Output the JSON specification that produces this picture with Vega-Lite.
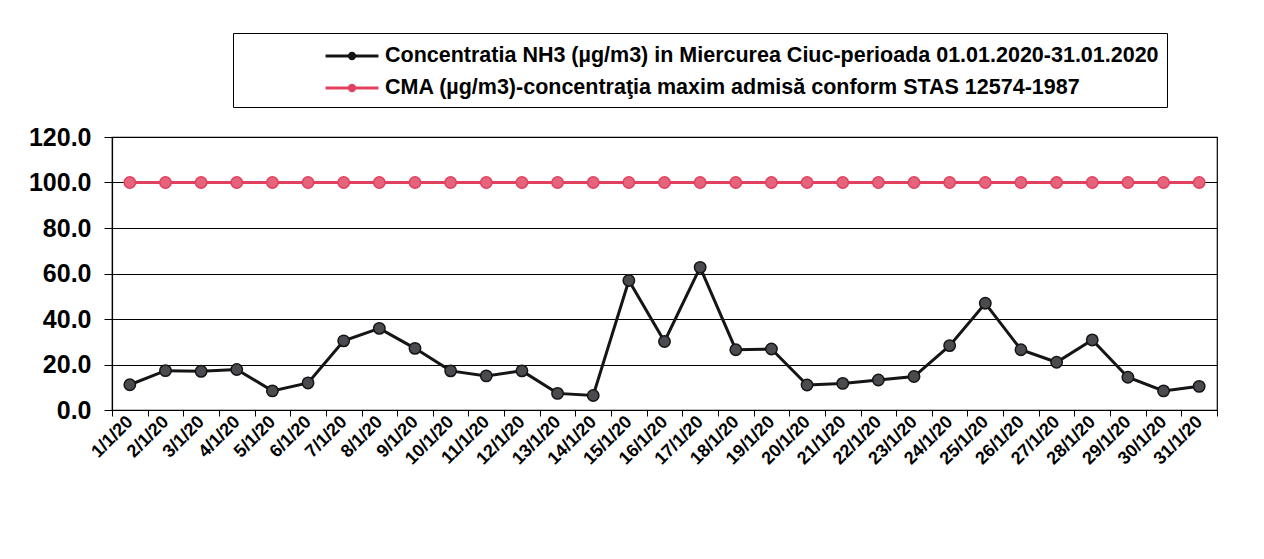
{
  "$schema": "https://vega.github.io/schema/vega-lite/v6.json",
  "width": 1105,
  "height": 273,
  "autosize": "none",
  "padding": {"left": 112, "top": 137, "right": 47, "bottom": 149},
  "background": "white",
  "config": {
    "font": "Liberation Sans",
    "view": {"stroke": "black", "strokeWidth": 1.2},
    "axis": {"labelFont": "Liberation Sans", "labelFontWeight": "bold", "labelColor": "black", "domainColor": "black", "tickColor": "black", "gridColor": "black", "gridOpacity": 1}
  },
  "data": {"values": [
    {"d": "1/1/20", "s": "Concentratia NH3 (µg/m3) in Miercurea Ciuc-perioada 01.01.2020-31.01.2020", "v": 11.1},
    {"d": "2/1/20", "s": "Concentratia NH3 (µg/m3) in Miercurea Ciuc-perioada 01.01.2020-31.01.2020", "v": 17.3},
    {"d": "3/1/20", "s": "Concentratia NH3 (µg/m3) in Miercurea Ciuc-perioada 01.01.2020-31.01.2020", "v": 17.0},
    {"d": "4/1/20", "s": "Concentratia NH3 (µg/m3) in Miercurea Ciuc-perioada 01.01.2020-31.01.2020", "v": 17.8},
    {"d": "5/1/20", "s": "Concentratia NH3 (µg/m3) in Miercurea Ciuc-perioada 01.01.2020-31.01.2020", "v": 8.4},
    {"d": "6/1/20", "s": "Concentratia NH3 (µg/m3) in Miercurea Ciuc-perioada 01.01.2020-31.01.2020", "v": 11.9},
    {"d": "7/1/20", "s": "Concentratia NH3 (µg/m3) in Miercurea Ciuc-perioada 01.01.2020-31.01.2020", "v": 30.4},
    {"d": "8/1/20", "s": "Concentratia NH3 (µg/m3) in Miercurea Ciuc-perioada 01.01.2020-31.01.2020", "v": 35.9},
    {"d": "9/1/20", "s": "Concentratia NH3 (µg/m3) in Miercurea Ciuc-perioada 01.01.2020-31.01.2020", "v": 27.1},
    {"d": "10/1/20", "s": "Concentratia NH3 (µg/m3) in Miercurea Ciuc-perioada 01.01.2020-31.01.2020", "v": 17.2},
    {"d": "11/1/20", "s": "Concentratia NH3 (µg/m3) in Miercurea Ciuc-perioada 01.01.2020-31.01.2020", "v": 15.0},
    {"d": "12/1/20", "s": "Concentratia NH3 (µg/m3) in Miercurea Ciuc-perioada 01.01.2020-31.01.2020", "v": 17.2},
    {"d": "13/1/20", "s": "Concentratia NH3 (µg/m3) in Miercurea Ciuc-perioada 01.01.2020-31.01.2020", "v": 7.3},
    {"d": "14/1/20", "s": "Concentratia NH3 (µg/m3) in Miercurea Ciuc-perioada 01.01.2020-31.01.2020", "v": 6.4},
    {"d": "15/1/20", "s": "Concentratia NH3 (µg/m3) in Miercurea Ciuc-perioada 01.01.2020-31.01.2020", "v": 56.9},
    {"d": "16/1/20", "s": "Concentratia NH3 (µg/m3) in Miercurea Ciuc-perioada 01.01.2020-31.01.2020", "v": 30.1},
    {"d": "17/1/20", "s": "Concentratia NH3 (µg/m3) in Miercurea Ciuc-perioada 01.01.2020-31.01.2020", "v": 62.7},
    {"d": "18/1/20", "s": "Concentratia NH3 (µg/m3) in Miercurea Ciuc-perioada 01.01.2020-31.01.2020", "v": 26.5},
    {"d": "19/1/20", "s": "Concentratia NH3 (µg/m3) in Miercurea Ciuc-perioada 01.01.2020-31.01.2020", "v": 26.8},
    {"d": "20/1/20", "s": "Concentratia NH3 (µg/m3) in Miercurea Ciuc-perioada 01.01.2020-31.01.2020", "v": 11.0},
    {"d": "21/1/20", "s": "Concentratia NH3 (µg/m3) in Miercurea Ciuc-perioada 01.01.2020-31.01.2020", "v": 11.7},
    {"d": "22/1/20", "s": "Concentratia NH3 (µg/m3) in Miercurea Ciuc-perioada 01.01.2020-31.01.2020", "v": 13.2},
    {"d": "23/1/20", "s": "Concentratia NH3 (µg/m3) in Miercurea Ciuc-perioada 01.01.2020-31.01.2020", "v": 14.7},
    {"d": "24/1/20", "s": "Concentratia NH3 (µg/m3) in Miercurea Ciuc-perioada 01.01.2020-31.01.2020", "v": 28.3},
    {"d": "25/1/20", "s": "Concentratia NH3 (µg/m3) in Miercurea Ciuc-perioada 01.01.2020-31.01.2020", "v": 46.9},
    {"d": "26/1/20", "s": "Concentratia NH3 (µg/m3) in Miercurea Ciuc-perioada 01.01.2020-31.01.2020", "v": 26.5},
    {"d": "27/1/20", "s": "Concentratia NH3 (µg/m3) in Miercurea Ciuc-perioada 01.01.2020-31.01.2020", "v": 21.0},
    {"d": "28/1/20", "s": "Concentratia NH3 (µg/m3) in Miercurea Ciuc-perioada 01.01.2020-31.01.2020", "v": 30.8},
    {"d": "29/1/20", "s": "Concentratia NH3 (µg/m3) in Miercurea Ciuc-perioada 01.01.2020-31.01.2020", "v": 14.4},
    {"d": "30/1/20", "s": "Concentratia NH3 (µg/m3) in Miercurea Ciuc-perioada 01.01.2020-31.01.2020", "v": 8.4},
    {"d": "31/1/20", "s": "Concentratia NH3 (µg/m3) in Miercurea Ciuc-perioada 01.01.2020-31.01.2020", "v": 10.4},
    {"d": "1/1/20", "s": "CMA (µg/m3)-concentraţia maxim admisă conform STAS 12574-1987", "v": 100},
    {"d": "2/1/20", "s": "CMA (µg/m3)-concentraţia maxim admisă conform STAS 12574-1987", "v": 100},
    {"d": "3/1/20", "s": "CMA (µg/m3)-concentraţia maxim admisă conform STAS 12574-1987", "v": 100},
    {"d": "4/1/20", "s": "CMA (µg/m3)-concentraţia maxim admisă conform STAS 12574-1987", "v": 100},
    {"d": "5/1/20", "s": "CMA (µg/m3)-concentraţia maxim admisă conform STAS 12574-1987", "v": 100},
    {"d": "6/1/20", "s": "CMA (µg/m3)-concentraţia maxim admisă conform STAS 12574-1987", "v": 100},
    {"d": "7/1/20", "s": "CMA (µg/m3)-concentraţia maxim admisă conform STAS 12574-1987", "v": 100},
    {"d": "8/1/20", "s": "CMA (µg/m3)-concentraţia maxim admisă conform STAS 12574-1987", "v": 100},
    {"d": "9/1/20", "s": "CMA (µg/m3)-concentraţia maxim admisă conform STAS 12574-1987", "v": 100},
    {"d": "10/1/20", "s": "CMA (µg/m3)-concentraţia maxim admisă conform STAS 12574-1987", "v": 100},
    {"d": "11/1/20", "s": "CMA (µg/m3)-concentraţia maxim admisă conform STAS 12574-1987", "v": 100},
    {"d": "12/1/20", "s": "CMA (µg/m3)-concentraţia maxim admisă conform STAS 12574-1987", "v": 100},
    {"d": "13/1/20", "s": "CMA (µg/m3)-concentraţia maxim admisă conform STAS 12574-1987", "v": 100},
    {"d": "14/1/20", "s": "CMA (µg/m3)-concentraţia maxim admisă conform STAS 12574-1987", "v": 100},
    {"d": "15/1/20", "s": "CMA (µg/m3)-concentraţia maxim admisă conform STAS 12574-1987", "v": 100},
    {"d": "16/1/20", "s": "CMA (µg/m3)-concentraţia maxim admisă conform STAS 12574-1987", "v": 100},
    {"d": "17/1/20", "s": "CMA (µg/m3)-concentraţia maxim admisă conform STAS 12574-1987", "v": 100},
    {"d": "18/1/20", "s": "CMA (µg/m3)-concentraţia maxim admisă conform STAS 12574-1987", "v": 100},
    {"d": "19/1/20", "s": "CMA (µg/m3)-concentraţia maxim admisă conform STAS 12574-1987", "v": 100},
    {"d": "20/1/20", "s": "CMA (µg/m3)-concentraţia maxim admisă conform STAS 12574-1987", "v": 100},
    {"d": "21/1/20", "s": "CMA (µg/m3)-concentraţia maxim admisă conform STAS 12574-1987", "v": 100},
    {"d": "22/1/20", "s": "CMA (µg/m3)-concentraţia maxim admisă conform STAS 12574-1987", "v": 100},
    {"d": "23/1/20", "s": "CMA (µg/m3)-concentraţia maxim admisă conform STAS 12574-1987", "v": 100},
    {"d": "24/1/20", "s": "CMA (µg/m3)-concentraţia maxim admisă conform STAS 12574-1987", "v": 100},
    {"d": "25/1/20", "s": "CMA (µg/m3)-concentraţia maxim admisă conform STAS 12574-1987", "v": 100},
    {"d": "26/1/20", "s": "CMA (µg/m3)-concentraţia maxim admisă conform STAS 12574-1987", "v": 100},
    {"d": "27/1/20", "s": "CMA (µg/m3)-concentraţia maxim admisă conform STAS 12574-1987", "v": 100},
    {"d": "28/1/20", "s": "CMA (µg/m3)-concentraţia maxim admisă conform STAS 12574-1987", "v": 100},
    {"d": "29/1/20", "s": "CMA (µg/m3)-concentraţia maxim admisă conform STAS 12574-1987", "v": 100},
    {"d": "30/1/20", "s": "CMA (µg/m3)-concentraţia maxim admisă conform STAS 12574-1987", "v": 100},
    {"d": "31/1/20", "s": "CMA (µg/m3)-concentraţia maxim admisă conform STAS 12574-1987", "v": 100}
  ]},
  "encoding": {
    "x": {"field": "d", "type": "ordinal", "sort": null, "title": null,
      "scale": {"paddingInner": 0, "paddingOuter": 0},
      "axis": {"labelAngle": -45, "labelAlign": "right", "labelBaseline": "middle", "labelFontSize": 18, "labelPadding": 3, "tickSize": 6, "tickBand": "extent", "domainWidth": 1.2, "grid": false, "labelOverlap": false}},
    "y": {"field": "v", "type": "quantitative", "title": null,
      "scale": {"domain": [0, 120], "nice": false},
      "axis": {"values": [0, 20, 40, 60, 80, 100, 120], "format": ".1f", "labelFontSize": 25, "tickSize": 8, "labelPadding": 13, "grid": true, "gridWidth": 1.2, "domainWidth": 1.2}}
  },
  "layer": [
    {
      "mark": {"type": "line", "strokeWidth": 3},
      "encoding": {
        "color": {"field": "s", "type": "nominal", "sort": null,
          "scale": {"domain": ["Concentratia NH3 (µg/m3) in Miercurea Ciuc-perioada 01.01.2020-31.01.2020", "CMA (µg/m3)-concentraţia maxim admisă conform STAS 12574-1987"], "range": ["#151515", "#e2405f"]},
          "legend": {"title": null, "orient": "none", "legendX": 121, "legendY": -104, "strokeColor": "black", "padding": 8, "fillColor": "white",
            "symbolOffset": 96, "symbolType": "M-2,0H2M-0.2,0A0.2,0.2,0,1,1,0.2,0A0.2,0.2,0,1,1,-0.2,0Z", "symbolSize": 700, "symbolStrokeWidth": 3,
            "labelFont": "Liberation Sans", "labelFontWeight": "bold", "labelFontSize": 21.5, "labelColor": "black", "labelLimit": 1000, "rowPadding": 6, "labelOffset": 18}}
      }
    },
    {
      "mark": {"type": "point", "shape": "circle", "filled": true, "size": 130, "strokeWidth": 1.5, "opacity": 1},
      "encoding": {
        "fill": {"field": "s", "type": "nominal", "legend": null,
          "scale": {"domain": ["Concentratia NH3 (µg/m3) in Miercurea Ciuc-perioada 01.01.2020-31.01.2020", "CMA (µg/m3)-concentraţia maxim admisă conform STAS 12574-1987"], "range": ["#4a4a4f", "#e6637c"]}},
        "stroke": {"field": "s", "type": "nominal", "legend": null,
          "scale": {"domain": ["Concentratia NH3 (µg/m3) in Miercurea Ciuc-perioada 01.01.2020-31.01.2020", "CMA (µg/m3)-concentraţia maxim admisă conform STAS 12574-1987"], "range": ["#151515", "#e2405f"]}}
      }
    }
  ]
}
